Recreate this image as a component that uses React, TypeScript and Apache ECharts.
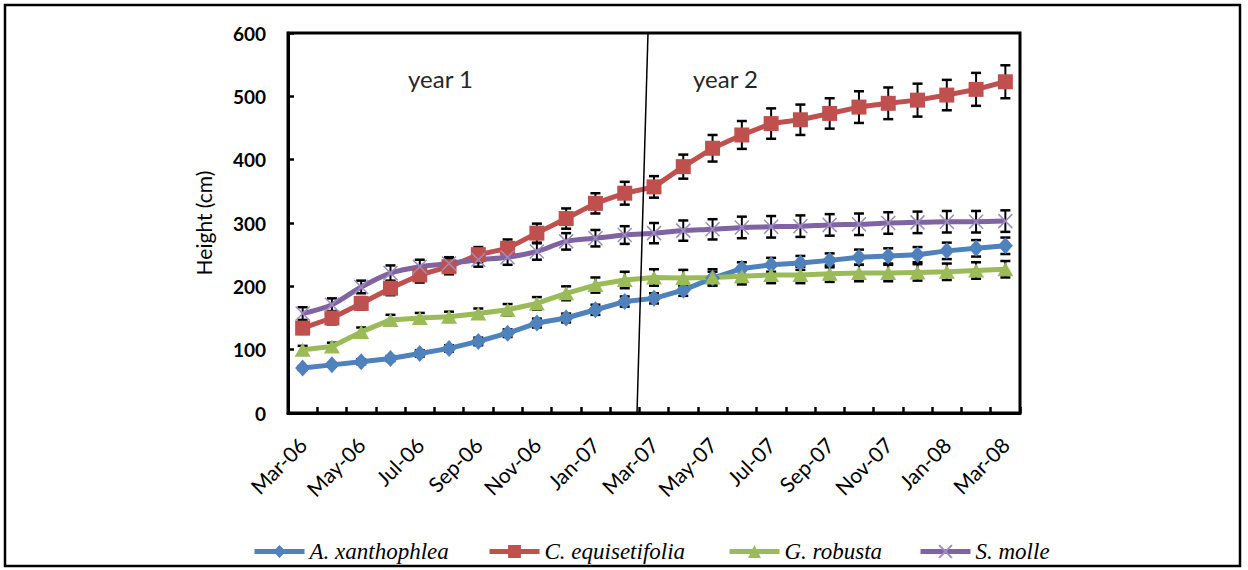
import React, { useEffect, useRef } from "react";
import * as echarts from "echarts";

const months = [
  "Mar-06", "Apr-06", "May-06", "Jun-06", "Jul-06", "Aug-06", "Sep-06", "Oct-06", "Nov-06", "Dec-06",
  "Jan-07", "Feb-07", "Mar-07", "Apr-07", "May-07", "Jun-07", "Jul-07", "Aug-07", "Sep-07", "Oct-07",
  "Nov-07", "Dec-07", "Jan-08", "Feb-08", "Mar-08",
];

const yTicks = [0, 100, 200, 300, 400, 500, 600];

const aXanthophlea = [71, 76, 81, 86, 94, 102, 113, 126, 142, 150, 163, 176, 181, 194, 213, 228, 234, 237, 241, 246, 248, 250, 256, 260, 264];
const aXanthophleaErr = [3, 3, 4, 4, 5, 5, 6, 6, 7, 7, 8, 8, 8, 9, 10, 10, 11, 11, 11, 12, 12, 12, 13, 13, 13];

const cEquisetifolia = [134, 150, 173, 197, 218, 231, 250, 260, 284, 307, 331, 347, 357, 389, 418, 439, 457, 463, 473, 483, 489, 494, 502, 511, 523];
const cEquisetifoliaErr = [9, 10, 10, 11, 12, 12, 12, 14, 15, 16, 16, 18, 17, 19, 21, 22, 24, 24, 24, 25, 25, 26, 24, 26, 26];

const gRobusta = [100, 105, 128, 147, 150, 152, 157, 163, 173, 189, 202, 210, 214, 213, 214, 216, 218, 218, 220, 221, 221, 222, 223, 225, 227];
const gRobustaErr = [6, 6, 7, 8, 8, 8, 8, 9, 10, 11, 12, 13, 13, 13, 13, 13, 13, 13, 13, 13, 13, 13, 13, 13, 13];

const sMolle = [157, 171, 199, 221, 231, 236, 242, 246, 255, 271, 276, 281, 284, 288, 290, 293, 294, 295, 297, 298, 300, 301, 302, 302, 303];
const sMolleErr = [10, 10, 10, 12, 11, 10, 11, 12, 13, 13, 13, 14, 16, 16, 16, 17, 17, 17, 17, 17, 17, 17, 17, 17, 17];

const seriesNames = ["A. xanthophlea", "C. equisetifolia", "G. robusta", "S. molle"];
const periodLabels = ["year 1", "year 2"];

export default function App() {
  const ref = useRef<HTMLDivElement>(null);

  useEffect(() => {
    if (!ref.current) return;
    const chart = echarts.init(ref.current, undefined, { renderer: "svg" });

    const errSeries = (name: string, vals: number[], errs: number[]) => ({
      type: "custom",
      name,
      z: 1,
      silent: true,
      encode: { x: 0, y: [1, 2] },
      data: vals.map((v, i) => [i, v - errs[i], v + errs[i]]),
      renderItem: (params: any, api: any) => {
        const x = api.value(0);
        const lo = api.coord([x, api.value(1)]);
        const hi = api.coord([x, api.value(2)]);
        const w = 5;
        return {
          type: "group",
          children: [
            { type: "line", shape: { x1: lo[0], y1: lo[1], x2: hi[0], y2: hi[1] }, style: { stroke: "#000", lineWidth: 2 } },
            { type: "line", shape: { x1: lo[0] - w, y1: lo[1], x2: lo[0] + w, y2: lo[1] }, style: { stroke: "#000", lineWidth: 2.5 } },
            { type: "line", shape: { x1: hi[0] - w, y1: hi[1], x2: hi[0] + w, y2: hi[1] }, style: { stroke: "#000", lineWidth: 2.5 } },
          ],
        };
      },
    });

    const legendBase = {
      top: 535,
      itemWidth: 50,
      itemHeight: 16,
      itemGap: 0,
      lineStyle: { width: 5 },
      textStyle: { fontFamily: "Liberation Serif", fontStyle: "italic", fontSize: 23, color: "#000" },
    };

    chart.setOption({
      animation: false,
      backgroundColor: "#fff",
      grid: {
        left: 288,
        right: 228,
        top: 33,
        bottom: 157,
        show: true,
        borderColor: "#000",
        borderWidth: 3,
        backgroundColor: "transparent",
      },
      legend: [
        { ...legendBase, left: 247, data: [seriesNames[0]] },
        { ...legendBase, left: 482, data: [seriesNames[1]] },
        { ...legendBase, left: 722, data: [seriesNames[2]] },
        { ...legendBase, left: 913, data: [seriesNames[3]] },
      ],
      xAxis: {
        type: "category",
        data: months,
        boundaryGap: true,
        axisLine: { lineStyle: { color: "#000", width: 3 } },
        axisTick: { show: true, inside: true, length: 6, interval: 0, lineStyle: { color: "#000", width: 2.5 } },
        axisLabel: {
          interval: 1,
          rotate: 45,
          margin: 28,
          fontFamily: "Lato",
          fontSize: 21,
          color: "#000",
        },
        splitLine: { show: false },
      },
      yAxis: {
        type: "value",
        min: yTicks[0],
        max: yTicks[yTicks.length - 1],
        interval: 100,
        name: "Height (cm)",
        nameLocation: "middle",
        nameGap: 74,
        nameTextStyle: { fontFamily: "Lato", fontSize: 21, color: "#000" },
        axisLine: { show: true, lineStyle: { color: "#000", width: 3 } },
        axisTick: { show: true, inside: true, length: 6, lineStyle: { color: "#000", width: 2.5 } },
        axisLabel: { fontFamily: "Lato", fontWeight: "bold", fontSize: 19, color: "#000", margin: 22 },
        splitLine: { show: false },
      },
      graphic: [
        {
          type: "rect",
          shape: { x: 5, y: 5, width: 1235, height: 561 },
          style: { fill: "none", stroke: "#000", lineWidth: 2.5 },
          silent: true,
        },
        {
          type: "line",
          shape: { x1: 648, y1: 33, x2: 637, y2: 413 },
          style: { stroke: "#000", lineWidth: 1.5 },
          silent: true,
          z: 10,
        },
        {
          type: "text",
          left: 408,
          top: 66,
          style: { text: periodLabels[0], fontFamily: "Lato", fontSize: 24, fill: "#262626" },
        },
        {
          type: "text",
          left: 693,
          top: 66,
          style: { text: periodLabels[1], fontFamily: "Lato", fontSize: 24, fill: "#262626" },
        },
      ],
      series: [
        errSeries("err0", aXanthophlea, aXanthophleaErr),
        errSeries("err1", cEquisetifolia, cEquisetifoliaErr),
        errSeries("err2", gRobusta, gRobustaErr),
        errSeries("err3", sMolle, sMolleErr),
        {
          type: "line",
          name: seriesNames[0],
          data: aXanthophlea,
          z: 3,
          symbol: "diamond",
          symbolSize: [15, 17],
          lineStyle: { color: "#4F81BD", width: 5 },
          itemStyle: { color: "#4F81BD" },
        },
        {
          type: "line",
          name: seriesNames[1],
          data: cEquisetifolia,
          z: 3,
          symbol: "rect",
          symbolSize: 15,
          lineStyle: { color: "#C0504D", width: 5 },
          itemStyle: { color: "#C0504D" },
        },
        {
          type: "line",
          name: seriesNames[2],
          data: gRobusta,
          z: 3,
          symbol: "triangle",
          symbolSize: [16, 14],
          lineStyle: { color: "#9BBB59", width: 5 },
          itemStyle: { color: "#9BBB59" },
        },
        {
          type: "line",
          name: seriesNames[3],
          data: sMolle,
          z: 3,
          smooth: 0.3,
          symbol: "path://M0,0L10,10M10,0L0,10",
          symbolSize: 14,
          lineStyle: { color: "#8064A2", width: 5 },
          itemStyle: { color: "#8064A2", borderColor: "#9C8CC4", borderWidth: 1.5 },
        },
      ],
    });

    return () => chart.dispose();
  }, []);

  return (
    <div
      ref={ref}
      style={{ position: "fixed", left: 0, top: 0, width: 1248, height: 570, background: "#fff" }}
    />
  );
}
